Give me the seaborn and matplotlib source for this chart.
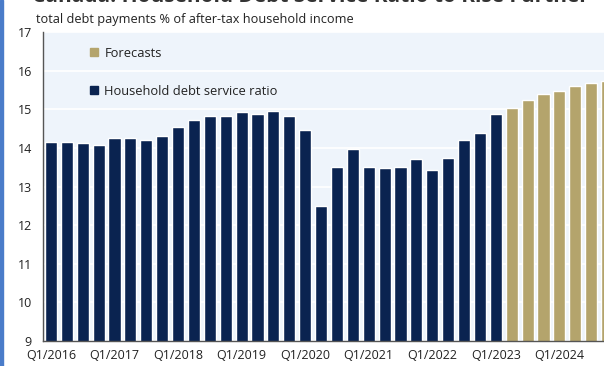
import matplotlib
matplotlib.use("Agg")
import matplotlib.pyplot as plt
import seaborn as sns
import pandas as pd
from matplotlib.patches import Rectangle
from matplotlib.lines import Line2D

actual = [14.16, 14.16, 14.12, 14.07, 14.26, 14.26, 14.21, 14.31,
          14.53, 14.72, 14.83, 14.82, 14.93, 14.88, 14.95, 14.83,
          14.47, 12.49, 13.51, 13.97, 13.51, 13.48, 13.51, 13.72,
          13.44, 13.75, 14.21, 14.38, 14.88]
forecast = [15.03, 15.25, 15.40, 15.47, 15.61, 15.68, 15.72]
years = [2016, 2017, 2018, 2019, 2020, 2021, 2022, 2023, 2024]
quarters = [f"Q{q}/{y}" for y in years for q in (1, 2, 3, 4)][:len(actual) + len(forecast)]
series_names = ["Household debt service ratio", "Forecasts"]
ylabel = "total debt payments % of after-tax household income"
title = "Canada: Household Debt Service Ratio to Rise Further"

navy = "#0a2350"
gold = "#b4a46c"

df = pd.DataFrame({
    "quarter": quarters,
    "value": actual + forecast,
    "series": [series_names[0]] * len(actual) + [series_names[1]] * len(forecast),
})

sns.set_style("white")
plt.rcParams["font.family"] = ["Open Sans", "DejaVu Sans"]

W, H = 604, 366
fig = plt.figure(figsize=(W / 100, H / 100), dpi=100)
ax = fig.add_axes([43 / W, 25 / H, 572 / W, 309 / H])
ax.set_facecolor("#eef4fb")

sns.barplot(data=df, x="quarter", y="value", hue="series", dodge=False,
            palette={series_names[0]: navy, series_names[1]: gold},
            width=0.76, ax=ax, legend=False, saturation=1)

ax.set_ylim(9, 17)
ax.set_xlim(-0.5, len(quarters) - 0.5)
ax.set_yticks(range(9, 18))
ax.yaxis.grid(True, color="white", linewidth=1.2)
ax.set_axisbelow(True)
ax.set_xlabel("")
ax.set_ylabel("")

ax.set_xticks(range(0, len(quarters), 4))
ax.set_xticklabels([quarters[i] for i in range(0, len(quarters), 4)])
ax.set_xticks([i + 0.5 for i in range(-1, len(quarters))], minor=True)
ax.tick_params(axis="x", which="major", length=0, pad=6, labelsize=9, labelcolor="#222222")
ax.tick_params(axis="x", which="minor", length=4, width=1, color="#555555", direction="out")
ax.tick_params(axis="y", length=4, width=1, color="#555555", labelsize=9,
               labelcolor="#222222", direction="out", pad=4)

for s in ["top", "right"]:
    ax.spines[s].set_visible(False)
ax.spines["left"].set_color("#555555")
ax.spines["bottom"].set_color("#555555")
ax.spines["left"].set_linewidth(1)
ax.spines["bottom"].set_linewidth(1)

handles = [Line2D([], [], marker="s", color="none", markerfacecolor=gold, markeredgecolor=gold, markersize=6),
           Line2D([], [], marker="s", color="none", markerfacecolor=navy, markeredgecolor=navy, markersize=6)]
ax.legend(handles, [series_names[1], series_names[0]], loc="upper left",
          bbox_to_anchor=(0.06, 0.99), frameon=False, fontsize=9.3,
          labelspacing=1.95, handlelength=0.8, handletextpad=0.4, labelcolor="#222222")

fig.text(36 / W, 1 - 20 / H, ylabel, fontsize=9.2, color="#222222", va="center", ha="left")
fig.text(32 / W, 1 - 7 / H, title, fontsize=15, fontweight="bold", color="#333333",
         va="bottom", ha="left")

fig.patches.append(Rectangle((0, 0), 3 / W, 1, transform=fig.transFigure,
                             color="#4a7cc9", zorder=10))

fig.savefig("out.png", dpi=100)
